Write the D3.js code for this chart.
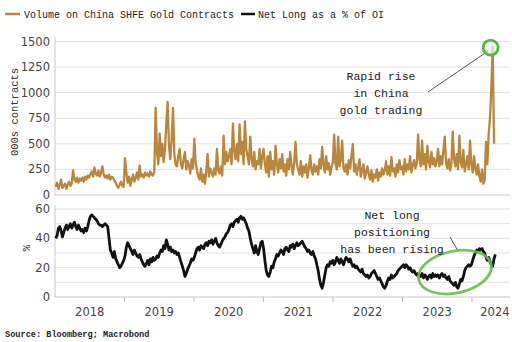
<!DOCTYPE html>
<html><head><meta charset="utf-8">
<script src="https://cdn.jsdelivr.net/npm/d3@7"></script>
<style>
body{margin:0;background:#fff;}
svg{display:block;}
</style></head>
<body><svg id="c" width="512" height="342"></svg>
<script>
// ---- data (weekly, starting first week of Jan 2018) ----
const startDate = new Date(2018, 0, 5);
const volumeSeries = "Volume on China SHFE Gold Contracts";
const netLongSeries = "Net Long as a % of OI";
const volume = [
 80,120,60,100,150,70,90,110,60,100,130,90,110,
 240,150,130,170,120,160,140,170,130,180,150,190,170,
 200,230,180,270,210,190,240,180,220,280,200,170,190,
 160,200,150,180,170,140,120,90,70,100,130,90,80,
 360,220,120,180,90,150,200,130,170,220,150,290,180,
 200,170,220,190,210,180,230,200,190,230,850,420,300,
 600,380,500,320,450,700,910,480,350,550,850,400,300,
 280,380,450,300,260,350,420,250,330,290,210,350,260,
 550,320,240,180,150,260,130,200,110,230,400,180,260,
 220,180,260,200,450,240,210,280,190,580,300,420,330,
 380,450,300,700,420,350,500,330,690,400,520,300,720,
 450,380,300,570,350,280,420,250,330,300,450,260,380,
 450,300,220,380,180,420,250,330,200,480,300,220,350,
 260,400,230,300,190,350,250,420,280,200,320,520,300,
 250,200,330,180,280,220,300,170,260,390,240,200,300,
 230,280,200,350,260,470,300,220,380,250,310,200,270,
 320,590,300,250,570,280,350,530,260,230,300,200,340,
 260,380,500,230,300,200,270,350,180,250,300,160,220,
 280,200,150,240,130,200,170,250,140,220,180,260,200,
 240,330,200,280,190,370,230,260,180,300,220,340,250,
 280,200,350,230,300,250,380,220,290,340,260,310,590,
 350,280,530,300,400,250,480,330,270,420,300,360,280,
 330,450,280,380,300,430,570,320,260,350,240,300,620,
 350,280,400,250,580,320,270,440,230,300,380,250,530,
 300,220,380,260,200,300,180,130,250,110,150,520,300,600,750,1050,1450,500
];
const netLong = [
 40,42,47,48,45,41,44,47,49,46,48,50,47,
 49,51,48,46,49,47,45,46,44,47,45,48,52,
 55,56,55,54,53,52,50,49,49,48,49,50,49,
 48,40,32,30,27,31,26,24,22,20,21,23,25,
 28,34,37,35,33,31,29,32,30,28,27,29,26,
 24,22,21,23,25,22,26,24,27,25,26,28,27,
 30,32,31,35,33,39,36,32,34,31,32,30,31,
 29,30,27,24,21,18,14,16,19,21,23,26,25,
 27,30,33,34,32,35,34,33,36,37,35,38,37,
 39,36,38,40,37,35,34,36,38,40,41,43,44,
 46,49,50,48,51,52,53,51,54,55,53,54,52,
 50,47,45,40,36,33,30,35,31,29,33,37,38,
 33,25,18,15,14,17,21,20,24,26,29,28,30,
 32,31,29,33,34,32,31,35,34,36,33,35,37,
 35,36,37,38,36,34,33,31,32,30,29,31,28,
 26,22,18,12,8,6,10,15,20,22,21,24,23,
 25,22,24,27,25,23,26,24,22,25,27,26,24,
 26,23,21,22,20,21,19,18,17,19,16,15,14,
 15,13,14,16,17,18,16,14,12,13,11,9,7,
 6,8,11,13,12,15,13,14,15,16,18,19,20,
 21,22,20,22,21,19,20,18,17,18,16,15,16,
 15,14,16,13,15,14,12,14,15,13,16,14,15,
 14,15,13,15,16,14,15,13,12,14,11,10,9,
 8,10,7,6,9,12,11,14,18,20,21,22,21,
 22,25,28,30,32,31,33,32,33,31,30,27,25,27,24,22,21,26,29
];
const volTicks = [0,250,500,750,1000,1250,1500];
const pctTicks = [0,20,40,60];
const pctGrid = [0,10,20,30,40,50,60];
const yearLabels = ["2018","2019","2020","2021","2022","2023","2024"];
const volAnnotation = ["Rapid rise","in China","gold trading"];
const pctAnnotation = ["Net long","positioning","has been rising"];
const sourceText = "Source: Bloomberg; Macrobond";

const weekDate = i => d3.timeDay.offset(startDate, i*7);
const volData = volume.map((v,i)=>({d:weekDate(i), v}));
const pctData = netLong.map((v,i)=>({d:weekDate(i), v}));

const svg = d3.select("#c");
const L = 55, R = 510;
const x = d3.scaleTime().domain([new Date(2018,0,1), new Date(2024,6,19)]).range([L,R]);
const yV = d3.scaleLinear().domain([0,1500]).range([195,41.5]);
const yP = d3.scaleLinear().domain([0,60]).range([297,209]);

const mono = "'Liberation Mono','DejaVu Sans Mono',monospace";
const sans = "'DejaVu Sans',Verdana,sans-serif";

// gridlines
svg.append("g").selectAll("line").data(volTicks.filter(t=>t>0)).join("line")
  .attr("x1",L).attr("x2",R).attr("y1",d=>yV(d)).attr("y2",d=>yV(d))
  .attr("stroke","#e2e2e2").attr("stroke-width",1);
svg.append("g").selectAll("line").data(pctGrid.filter(t=>t>0)).join("line")
  .attr("x1",L).attr("x2",R).attr("y1",d=>yP(d)).attr("y2",d=>yP(d))
  .attr("stroke","#e2e2e2").attr("stroke-width",1);

// axes lines
svg.append("line").attr("x1",L).attr("x2",L).attr("y1",yV(1500)-4).attr("y2",yV(0)).attr("stroke","#c8c8c8");
svg.append("line").attr("x1",L).attr("x2",L).attr("y1",yP(60)-4).attr("y2",yP(0)).attr("stroke","#c8c8c8");
svg.append("line").attr("x1",L).attr("x2",R).attr("y1",yV(0)).attr("y2",yV(0)).attr("stroke","#c8c8c8");
svg.append("line").attr("x1",L).attr("x2",R).attr("y1",yP(0)).attr("y2",yP(0)).attr("stroke","#c8c8c8");

// y tick labels
svg.append("g").selectAll("text").data(volTicks).join("text")
  .attr("x",50).attr("y",d=>yV(d)+4).attr("text-anchor","end")
  .attr("font-family",sans).attr("font-size",11.5).attr("fill","#444").text(d=>d);
svg.append("g").selectAll("text").data(pctTicks).join("text")
  .attr("x",50).attr("y",d=>yP(d)+4).attr("text-anchor","end")
  .attr("font-family",sans).attr("font-size",11.5).attr("fill","#444").text(d=>d);

// x axis ticks and labels
const yearStarts = d3.range(2019,2025).map(y=>new Date(y,0,1));
svg.append("g").selectAll("line").data(yearStarts).join("line")
  .attr("x1",d=>x(d)).attr("x2",d=>x(d)).attr("y1",yP(0)).attr("y2",yP(0)+5).attr("stroke","#bbb");
svg.append("g").selectAll("text").data(yearLabels).join("text")
  .attr("x",(d,i)=>{const a=x(new Date(+d,0,1)); const b=x(new Date(+d+1,0,1)); return +d===2024? a+23 : (a+b)/2;})
  .attr("y",316).attr("text-anchor","middle")
  .attr("font-family",sans).attr("font-size",11.5).attr("fill","#444").text(d=>d);

// axis titles
svg.append("text").attr("transform","translate(18,112) rotate(-90)").attr("text-anchor","middle")
  .attr("font-family",mono).attr("font-size",10.5).attr("fill","#333").text("000s contracts");
svg.append("text").attr("transform","translate(30,248) rotate(-90)").attr("text-anchor","middle")
  .attr("font-family",mono).attr("font-size",10.5).attr("fill","#333").text("%");

// lines
svg.append("path").datum(volData)
  .attr("d", d3.line().x(d=>x(d.d)).y(d=>yV(d.v)))
  .attr("fill","none").attr("stroke","#b8863d").attr("stroke-width",2.3).attr("stroke-linejoin","round");
svg.append("path").datum(pctData)
  .attr("d", d3.line().x(d=>x(d.d)).y(d=>yP(d.v)))
  .attr("fill","none").attr("stroke","#111").attr("stroke-width",2.8).attr("stroke-linejoin","round");

// legend
svg.append("line").attr("x1",5).attr("x2",20).attr("y1",14).attr("y2",14).attr("stroke","#b8863d").attr("stroke-width",2.5);
svg.append("text").attr("x",24).attr("y",17.5).attr("font-family",mono).attr("font-size",10).attr("fill","#222").text(volumeSeries);
svg.append("line").attr("x1",241).attr("x2",255).attr("y1",14).attr("y2",14).attr("stroke","#111").attr("stroke-width",2.5);
svg.append("text").attr("x",258).attr("y",17.5).attr("font-family",mono).attr("font-size",10).attr("fill","#222").text(netLongSeries);

// annotations – volume spike
const peak = volData.reduce((a,b)=>b.v>a.v?b:a);
svg.append("line").attr("x1",428).attr("y1",92).attr("x2",x(peak.d)-4).attr("y2",yV(peak.v)+4).attr("stroke","#555").attr("stroke-width",1);
svg.append("circle").attr("cx",x(peak.d)-2).attr("cy",yV(peak.v)+1).attr("r",7.5)
  .attr("fill","#e4f1ea").attr("fill-opacity",0.7).attr("stroke","#5cb24a").attr("stroke-width",2.8);
svg.append("g").selectAll("text").data(volAnnotation).join("text")
  .attr("x",381).attr("y",(d,i)=>80+i*17).attr("text-anchor","middle")
  .attr("font-family",mono).attr("font-size",11.5).attr("fill","#222").text(d=>d);

// annotations – net long
svg.append("line").attr("x1",450).attr("y1",237).attr("x2",458).attr("y2",251).attr("stroke","#555").attr("stroke-width",1);
svg.append("ellipse").attr("cx",x(new Date(2024,0,1))-17).attr("cy",yP(17)).attr("rx",37).attr("ry",21)
  .attr("transform",`rotate(-12,${x(new Date(2024,0,1))-17},${yP(17)})`)
  .attr("fill","none").attr("stroke","#6dbb4e").attr("stroke-width",2.8).attr("stroke-opacity",0.9);
svg.append("g").selectAll("text").data(pctAnnotation).join("text")
  .attr("x",392).attr("y",(d,i)=>219+i*17).attr("text-anchor","middle")
  .attr("font-family",mono).attr("font-size",11.5).attr("fill","#222").text(d=>d);

// source
svg.append("text").attr("x",5).attr("y",337).attr("font-family",mono).attr("font-weight","bold")
  .attr("font-size",8.6).attr("fill","#222").text(sourceText);
</script></body></html>
